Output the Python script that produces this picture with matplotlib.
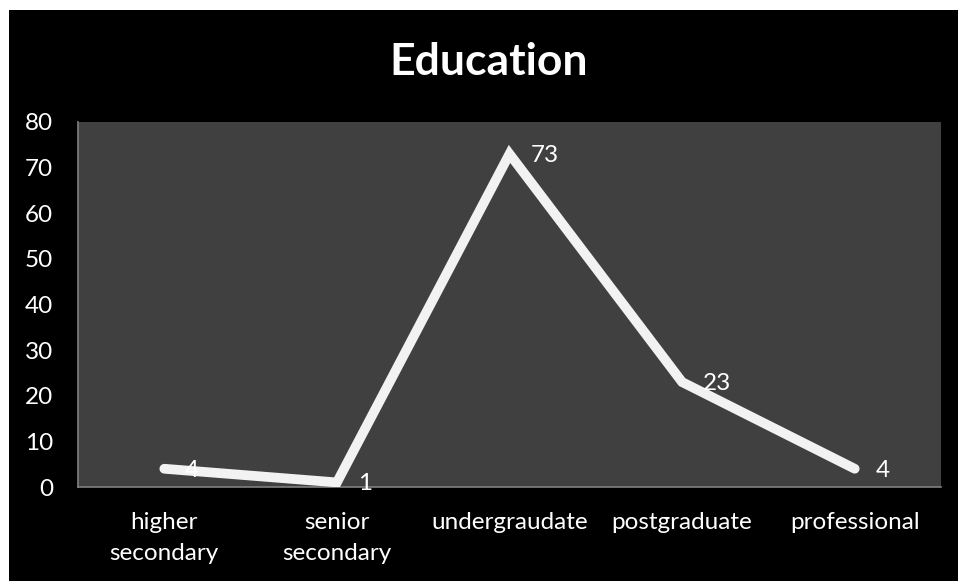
import matplotlib
matplotlib.use("Agg")
import matplotlib.pyplot as plt
from matplotlib.patches import Rectangle

categories = ["higher\nsecondary", "senior\nsecondary", "undergraudate", "postgraduate", "professional"]
values = [4, 1, 73, 23, 4]
yticks = [0, 10, 20, 30, 40, 50, 60, 70, 80]

plt.rcParams['font.family'] = ['Lato', 'DejaVu Sans']

W, H = 958, 581
fig = plt.figure(figsize=(W / 100, H / 100), dpi=100)
fig.patch.set_facecolor("white")
# black chart area with thin white margin on top and left
fig.patches.append(Rectangle((9 / W, 0), 1 - 9 / W, 1 - 10 / H,
                             transform=fig.transFigure, facecolor="black",
                             edgecolor="none", zorder=-10))

left, right, top, bottom = 78, 941, 122, 487
ax = fig.add_axes([left / W, 1 - bottom / H, (right - left) / W, (bottom - top) / H])
ax.set_zorder(1)
ax.set_facecolor("#404040")

label_size = 17.5

x = list(range(len(categories)))
ax.plot(x, values, color="#f2f2f2", linewidth=7, solid_capstyle="round",
        solid_joinstyle="miter", zorder=3)
for xi, v in zip(x, values):
    ax.annotate(str(v), (xi, v), xytext=(15, -1), textcoords="offset points",
                ha="left", va="center", color="white", fontsize=label_size, zorder=4)

ax.set_xlim(-0.5, len(categories) - 0.5)
ax.set_ylim(0, 80)
ax.set_yticks(yticks)
ax.set_yticklabels([str(t) for t in yticks], color="white", fontsize=label_size)
ax.set_xticks(x)
ax.set_xticklabels(categories, color="white", fontsize=label_size, linespacing=1.6)
ax.tick_params(axis="both", length=0)
ax.tick_params(axis="x", pad=18)
ax.tick_params(axis="y", pad=18)
for lbl in ax.get_yticklabels():
    lbl.set_horizontalalignment("right")

for s in ["top", "right"]:
    ax.spines[s].set_visible(False)
for s in ["left", "bottom"]:
    ax.spines[s].set_color("#808080")
    ax.spines[s].set_linewidth(1.2)

fig.text(489 / W, 1 - 62 / H, "Education", color="white",
         fontsize=32, fontweight="bold", ha="center", va="center")

fig.savefig("out.png", dpi=100, facecolor=fig.get_facecolor())
